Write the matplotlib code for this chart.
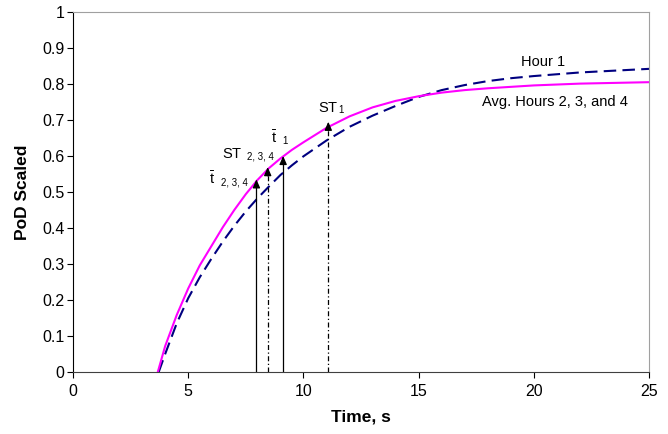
import numpy as np
import matplotlib
matplotlib.use("Agg")
import matplotlib.pyplot as plt

plt.rcParams['font.family'] = ['Liberation Sans', 'DejaVu Sans']
plt.rcParams['mathtext.fontset'] = 'custom'
plt.rcParams['mathtext.rm'] = 'Liberation Sans'
plt.rcParams['mathtext.it'] = 'Liberation Sans'

# Avg. Hours 2, 3 and 4 (magenta solid)
t_avg = [3.68, 4, 4.5, 5, 5.5, 6, 6.5, 7, 7.5, 8, 8.5, 9, 9.5, 10, 11, 12, 13, 14,
         15, 16, 17, 18, 19, 20, 22, 25]
pod_avg = [0.0, 0.072, 0.158, 0.232, 0.296, 0.349, 0.402, 0.450, 0.494, 0.533, 0.566,
           0.593, 0.617, 0.638, 0.678, 0.710, 0.735, 0.753, 0.766, 0.776, 0.783,
           0.788, 0.792, 0.796, 0.801, 0.805]

# Hour 1 (navy dashed)
t_h1 = [3.72, 4, 4.5, 5, 5.5, 6, 6.5, 7, 7.5, 8, 8.5, 9, 9.5, 10, 11, 12, 13, 14,
        15, 16, 17, 18, 19, 20, 22, 25]
pod_h1 = [0.0, 0.050, 0.135, 0.205, 0.263, 0.314, 0.362, 0.406, 0.446, 0.482, 0.515,
          0.547, 0.574, 0.599, 0.643, 0.681, 0.712, 0.739, 0.764, 0.783, 0.797,
          0.808, 0.816, 0.822, 0.832, 0.842]

# vertical markers: time, arrow tip height, line style
mark_t = [7.96, 8.45, 9.12, 11.08]
mark_tip = [0.535, 0.569, 0.600, 0.695]
mark_ls = ['-', (0, (4, 2, 1, 2)), '-', (0, (4, 2, 1, 2))]

# marker labels: main text, subscript, left x, baseline y, gap (pt)
lab_main = [r'$\bar{\mathrm{t}}$', r'$\mathrm{ST}$', r'$\bar{\mathrm{t}}$', r'$\mathrm{ST}$']
lab_sub = ['2, 3, 4', '2, 3, 4', '1', '1']
lab_x = [5.9, 6.45, 8.6, 10.65]
lab_y = [0.521, 0.594, 0.635, 0.723]
lab_gap = [3.5, 3.5, 3.0, -0.5]

fig = plt.figure(figsize=(6.68, 4.34), dpi=100)
ax = fig.add_axes([0.1093, 0.1429, 0.8623, 0.8295])

ax.plot(t_h1, pod_h1, color='#000080', lw=1.5, ls=(0, (6, 3)))
ax.plot(t_avg, pod_avg, color='#ff00ff', lw=1.5)

for x, tip, ls in zip(mark_t, mark_tip, mark_ls):
    ax.plot([x, x], [0, tip - 0.02], color='black', lw=0.9, ls=ls)
    ax.annotate('', xy=(x, tip), xytext=(x, tip - 0.024),
                arrowprops=dict(arrowstyle='-|>,head_length=0.5,head_width=0.22',
                                color='black', lw=0.9, shrinkA=0, shrinkB=0))

fs = 10.5
for m, s, x, y, g in zip(lab_main, lab_sub, lab_x, lab_y, lab_gap):
    tm = ax.text(x, y, m, fontsize=fs, ha='left', va='baseline')
    ax.annotate(s, xy=(1, 0), xycoords=tm, xytext=(g, 1.4),
                textcoords='offset points', fontsize=7, ha='left', va='baseline')

ax.text(20.38, 0.861, 'Hour 1', fontsize=fs, ha='center', va='center')
ax.text(20.9, 0.751, 'Avg. Hours 2, 3, and 4', fontsize=fs, ha='center', va='center')

ax.set_xlim(0, 25)
ax.set_ylim(0, 1)
ax.set_xticks([0, 5, 10, 15, 20, 25])
ax.set_yticks(np.round(np.arange(0, 1.01, 0.1), 1))
ax.set_yticklabels(['0', '0.1', '0.2', '0.3', '0.4', '0.5', '0.6', '0.7', '0.8', '0.9', '1'])
ax.tick_params(direction='out', length=4, labelsize=11.5)
ax.tick_params(axis='x', pad=5)
ax.tick_params(axis='y', pad=2)
ax.set_xlabel('Time, s', fontsize=12.5, fontweight='bold', labelpad=7)
ax.set_ylabel('PoD Scaled', fontsize=12.5, fontweight='bold', labelpad=9)

for s in ['top', 'right']:
    ax.spines[s].set_color('#a0a0a0')
ax.spines['left'].set_color('black')
ax.spines['bottom'].set_color('#404040')

fig.savefig('out.png', dpi=100)
